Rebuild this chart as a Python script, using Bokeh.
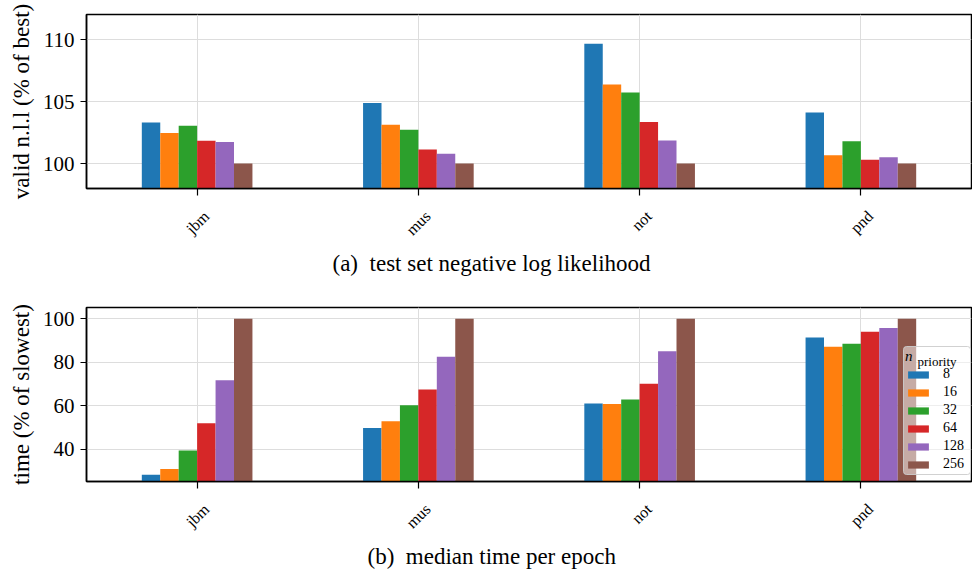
import math
from bokeh.plotting import figure
from bokeh.layouts import column
from bokeh.models import (ColumnDataSource, Range1d, FixedTicker, Label, LinearAxis, Title,
                          CustomLabelingPolicy, BoxAnnotation)
from bokeh.transform import dodge
from bokeh.embed import file_html
from bokeh.resources import INLINE

# ---------------- data ----------------
datasets = ["jbm", "mus", "not", "pnd"]
priorities = ["8", "16", "32", "64", "128", "256"]
colors = ["#1f77b4", "#ff7f0e", "#2ca02c", "#d62728", "#9467bd", "#8c564b"]

# (a) validation negative log likelihood, % of best
nll_8   = [103.32, 104.90, 109.69, 104.13]
nll_16  = [102.46, 103.13, 106.39, 100.66]
nll_32  = [103.05, 102.73, 105.74, 101.81]
nll_64  = [101.84, 101.14, 103.35, 100.31]
nll_128 = [101.73, 100.79, 101.87, 100.50]
nll_256 = [100.00, 100.00, 100.00, 100.00]

# (b) median time per epoch, % of slowest
time_8   = [28.3, 49.8, 61.1, 91.4]
time_16  = [30.9, 52.9, 60.8, 87.2]
time_32  = [39.4, 60.3, 62.9, 88.5]
time_64  = [52.0, 67.5, 70.1, 94.0]
time_128 = [71.8, 82.5, 85.1, 95.8]
time_256 = [100.0, 100.0, 100.0, 100.0]

nll_ticks = [100, 105, 110]
time_ticks = [40, 60, 80, 100]

SERIF = "Liberation Serif"
LABEL_SHIFT = 0.042  # rotated names are centred under their tick, as in the original

HIDE_LABELS = """
try { for (let i = 0; i < indices.size; i++) { indices.unset(i) } } catch (e) {}
return indices
"""


def make_panel(series, yrange, yticks, ylabel, caption, cap_offset, top_border, bottom_border,
               cap_standoff, legend=False):
    idx = list(range(len(datasets)))
    src = ColumnDataSource(dict(idx=idx, **{f"v{k}": s for k, s in zip(priorities, series)}))
    p = figure(
        x_range=Range1d(-0.5, len(datasets) - 0.5),
        y_range=Range1d(*yrange),
        frame_width=885, frame_height=174,
        min_border_left=86, min_border_right=1,
        min_border_top=top_border, min_border_bottom=bottom_border,
        output_backend="svg", toolbar_location=None,
    )
    w = 0.5 / len(priorities)
    for j, (k, c) in enumerate(zip(priorities, colors)):
        kw = dict(legend_label=k) if legend else {}
        p.vbar(x=dodge("idx", (j - 2.5) * w), top=f"v{k}", bottom=0,
               width=w, source=src, fill_color=c, line_color=None, **kw)

    p.outline_line_color = "black"
    p.outline_line_width = 1.5
    p.outline_line_alpha = 1

    p.yaxis.ticker = FixedTicker(ticks=yticks)
    p.ygrid.ticker = FixedTicker(ticks=yticks)
    p.xaxis.ticker = FixedTicker(ticks=idx)
    p.xgrid.ticker = FixedTicker(ticks=idx)

    ya = p.yaxis[0]
    ya.axis_line_color = "black"
    ya.axis_line_width = 1.5
    ya.major_tick_line_color = "black"
    ya.major_tick_line_alpha = 1
    ya.major_tick_line_width = 1.2
    ya.major_tick_out = 6
    ya.major_tick_in = 0
    ya.minor_tick_line_color = None
    ya.major_label_text_font = SERIF
    ya.major_label_text_color = "black"
    ya.major_label_text_font_size = "21px"
    ya.major_label_standoff = 6
    ya.axis_label = ylabel
    ya.axis_label_text_font = SERIF
    ya.axis_label_text_font_style = "normal"
    ya.axis_label_text_font_size = "23px"
    ya.axis_label_text_color = "black"
    ya.axis_label_standoff = 6

    # main x axis: tick marks only
    xa = p.xaxis[0]
    xa.axis_line_color = "black"
    xa.axis_line_width = 1.5
    xa.major_tick_line_color = "black"
    xa.major_tick_line_alpha = 1
    xa.major_tick_line_width = 1.2
    xa.major_tick_out = 7
    xa.major_tick_in = 0
    xa.minor_tick_line_color = None
    xa.major_label_overrides = {i: "" for i in idx}
    xa.major_label_policy = CustomLabelingPolicy(code=HIDE_LABELS)
    xa.major_label_standoff = 0

    # category names, centred under the ticks (rotated as in the original)
    p.extra_x_ranges = {"lab": Range1d(-0.5 - LABEL_SHIFT, len(datasets) - 0.5 - LABEL_SHIFT)}
    lab = LinearAxis(x_range_name="lab", ticker=FixedTicker(ticks=idx),
                     major_label_overrides={i: n for i, n in zip(idx, datasets)},
                     axis_line_color=None, major_tick_line_color=None,
                     minor_tick_line_color=None,
                     major_label_orientation=math.pi / 4,
                     major_label_text_font=SERIF, major_label_text_font_size="16px",
                     major_label_text_color="black", major_label_standoff=12)
    p.add_layout(lab, "below")

    p.grid.grid_line_color = "#dddddd"
    p.grid.grid_line_width = 1

    p.add_layout(Title(text=caption, align="left", offset=cap_offset, standoff=cap_standoff,
                       text_font=SERIF, text_font_size="23px", text_font_style="normal",
                       text_color="black"), "below")

    if legend:
        # translucent legend frame (drawn under the legend texts)
        p.add_layout(BoxAnnotation(left=817, right=884, bottom=7, top=135,
                                   left_units="screen", right_units="screen",
                                   bottom_units="screen", top_units="screen",
                                   fill_color="white", fill_alpha=0.5,
                                   line_color="#cccccc", line_alpha=0.9, line_width=1,
                                   border_radius=3, level="annotation"))
        lg = p.legend[0]
        lg.location = (819, 9)
        lg.title = "n"
        lg.title_text_font = SERIF
        lg.title_text_font_style = "italic"
        lg.title_text_font_size = "15px"
        lg.title_text_color = "black"
        lg.title_standoff = 1
        lg.label_text_font = SERIF
        lg.label_text_font_size = "14px"
        lg.label_text_color = "black"
        lg.label_height = 12
        lg.label_width = 20
        lg.glyph_width = 26
        lg.glyph_height = 9
        lg.spacing = 2
        lg.padding = 4
        lg.margin = 0
        lg.label_standoff = 12
        lg.background_fill_alpha = 0
        lg.border_line_color = None
        p.add_layout(Label(x=831, y=120, x_units="screen", y_units="screen", text="priority",
                           text_font=SERIF, text_font_size="13px",
                           text_baseline="alphabetic", text_color="black", level="overlay"))
    return p


p1 = make_panel([nll_8, nll_16, nll_32, nll_64, nll_128, nll_256], (97.98, 112.05), nll_ticks,
                "valid n.l.l (% of best)", "(a)\u2002test set negative log likelihood", 246,
                14, 97, 2)
p2 = make_panel([time_8, time_16, time_32, time_64, time_128, time_256], (25.2, 105.2), time_ticks,
                "time (% of slowest)", "(b)\u2002median time per epoch", 281,
                22, 89, 2, legend=True)

layout = column(p1, p2, spacing=0)
open("out.html", "w").write(file_html(layout, INLINE))
